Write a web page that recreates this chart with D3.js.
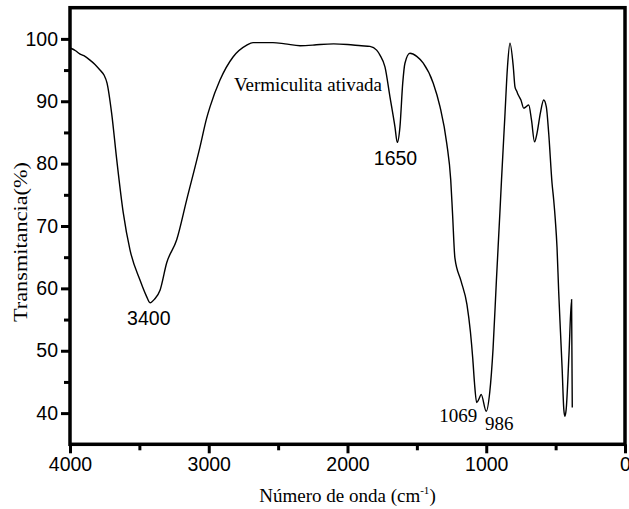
<!DOCTYPE html>
<html>
<head>
<meta charset="utf-8">
<script src="https://cdn.jsdelivr.net/npm/d3@7"></script>
<style>
  body { margin: 0; background: #fff; }
  svg { display: block; }
</style>
</head>
<body>
<svg id="chart" width="629" height="509"></svg>
<script>
// Spectrum (wavenumber in cm-1, transmittance in %)
var wavenumber = [
  3995, 3960, 3930, 3900, 3856, 3820, 3784, 3755, 3733, 3700, 3663, 3616, 3568, 3495,
  3450, 3423, 3390, 3351, 3303, 3231, 3159, 3063, 3015, 2991, 2919, 2825, 2726,
  2681, 2600, 2537, 2450, 2342, 2250, 2198, 2100, 2000, 1900, 1838, 1790, 1766,
  1730, 1694, 1658, 1641, 1622, 1602, 1586, 1550, 1501, 1454, 1382, 1333, 1285,
  1256, 1243, 1226, 1182, 1139, 1114, 1097, 1085, 1069, 1050, 1037, 1000, 975,
  951, 927, 902, 890, 866, 847, 829, 805, 793, 780, 769, 750, 730, 714, 694, 674,
  652, 634, 610, 586, 567, 550, 526, 514, 502, 490, 478, 465, 453, 441, 433, 424,
  404, 385, 380
];
var transmittance = [
  98.5, 98.1, 97.6, 97.3, 96.6, 95.9, 95.0, 94.2, 92.9, 88.1, 80.6, 72.1, 66.2, 61.3,
  58.8, 57.7, 58.3, 59.7, 64.1, 67.8, 74.2, 82.7, 87.3, 89.1, 93.4, 97.1, 99.0,
  99.4, 99.4, 99.4, 99.2, 98.9, 99.0, 99.1, 99.2, 99.1, 98.9, 98.8, 98.2, 97.4,
  95.5, 90.7, 85.9, 83.4, 85.9, 92.9, 96.1, 97.7, 97.2, 96.1, 92.9, 89.1, 83.3,
  77.4, 72.0, 64.9, 61.2, 57.4, 53.0, 48.7, 44.9, 41.7, 42.4, 43.0, 40.3, 43.3,
  50.3, 61.2, 72.0, 77.4, 87.5, 95.5, 99.3, 95.5, 92.3, 91.6, 91.0, 90.2, 88.9, 89.1, 89.4, 87.0,
  83.5, 84.9, 88.1, 90.2, 89.1, 84.9, 76.9, 74.2, 70.9, 66.6, 59.5, 53.0, 47.1, 40.6, 39.5, 40.6,
  49.3, 58.2, 40.9
];

// Peak annotations (anchor in data units)
var peak_labels = ["3400", "1650", "1069", "986"];
var peak_wn     = [3432, 1654, 1338, 1009];
var peak_t      = [54.1, 79.8, 38.5, 37.3];

var sample_label = "Vermiculita ativada";

var x_ticks = [4000, 3000, 2000, 1000, 0];
var y_ticks = [40, 50, 60, 70, 80, 90, 100];

var svg    = d3.select("#chart");
var margin = { top: 7.7, right: 4, bottom: 64.7, left: 70 };
var width  = 629 - margin.left - margin.right;
var height = 509 - margin.top - margin.bottom;

var x = d3.scaleLinear().domain([4000, 0]).range([0, width]);
var y = d3.scaleLinear().domain([35, 105]).range([height, 0]);

var g = svg.append("g")
           .attr("transform", "translate(" + margin.left + "," + margin.top + ")");

var sans  = "'Liberation Sans', Arial, sans-serif";
var serif = "'Liberation Serif', 'Times New Roman', serif";

// Minor ticks first so the major ones draw over them
g.append("g")
 .attr("transform", "translate(0," + height + ")")
 .call(d3.axisBottom(x).tickValues(d3.range(3500, 0, -1000)).tickSize(6).tickFormat(""))
 .call(function (a) { a.select(".domain").remove(); })
 .selectAll("line").attr("stroke-width", 3);

g.append("g")
 .call(d3.axisLeft(y).tickValues(d3.range(45, 105, 10)).tickSize(6).tickFormat(""))
 .call(function (a) { a.select(".domain").remove(); })
 .selectAll("line").attr("stroke-width", 3);

var x_axis = g.append("g")
              .attr("transform", "translate(0," + height + ")")
              .call(d3.axisBottom(x).tickValues(x_ticks).tickSize(9).tickSizeOuter(0).tickPadding(4).tickFormat(d3.format("d")));

var y_axis = g.append("g")
              .call(d3.axisLeft(y).tickValues(y_ticks).tickSize(9).tickSizeOuter(0).tickPadding(3));

[x_axis, y_axis].forEach(function (a) {
  a.select(".domain").remove();
  a.selectAll("line").attr("stroke-width", 3);
  a.selectAll("text")
   .attr("font-family", sans)
   .attr("font-size", "19.5px")
   .attr("fill", "#000");
});

// Frame around the plot
g.append("rect")
 .attr("x", 0)
 .attr("y", 0)
 .attr("width", width)
 .attr("height", height)
 .attr("fill", "none")
 .attr("stroke", "#000")
 .attr("stroke-width", 3.5);

// The spectrum
var pts = wavenumber.map(function (d, i) { return [d, transmittance[i]]; });

var line = d3.line()
             .x(function (d) { return x(d[0]); })
             .y(function (d) { return y(d[1]); })
             .curve(d3.curveMonotoneX);

g.append("path")
 .datum(pts)
 .attr("d", line)
 .attr("fill", "none")
 .attr("stroke", "#000")
 .attr("stroke-width", 1.4);

// Peak labels: the first two are sans, the pair near 1000 are serif
peak_labels.forEach(function (txt, i) {
  var is_serif = i >= 2;
  g.append("text")
   .attr("x", x(peak_wn[i]))
   .attr("y", y(peak_t[i]))
   .attr("text-anchor", is_serif ? "start" : "middle")
   .attr("font-family", is_serif ? serif : sans)
   .attr("font-size", is_serif ? "19px" : "19.5px")
   .text(txt);
});

g.append("text")
 .attr("x", x(2818))
 .attr("y", y(91.65))
 .attr("font-family", serif)
 .attr("font-size", "18.7px")
 .attr("textLength", 148)
 .attr("lengthAdjust", "spacingAndGlyphs")
 .text(sample_label);

// Axis titles
var x_title = svg.append("text")
                 .attr("x", margin.left + width / 2)
                 .attr("y", 502)
                 .attr("text-anchor", "middle")
                 .attr("font-family", serif)
                 .attr("font-size", "19px");
x_title.append("tspan").text("Número de onda (cm");
x_title.append("tspan").attr("font-size", "11px").attr("dy", -8).text("-1");
x_title.append("tspan").attr("dy", 8).text(")");

svg.append("text")
   .attr("transform", "translate(27,242) rotate(-90)")
   .attr("text-anchor", "middle")
   .attr("font-family", serif)
   .attr("font-size", "19.5px")
   .attr("textLength", 160)
   .attr("lengthAdjust", "spacingAndGlyphs")
   .text("Transmitancia(%)");
</script>
</body>
</html>
